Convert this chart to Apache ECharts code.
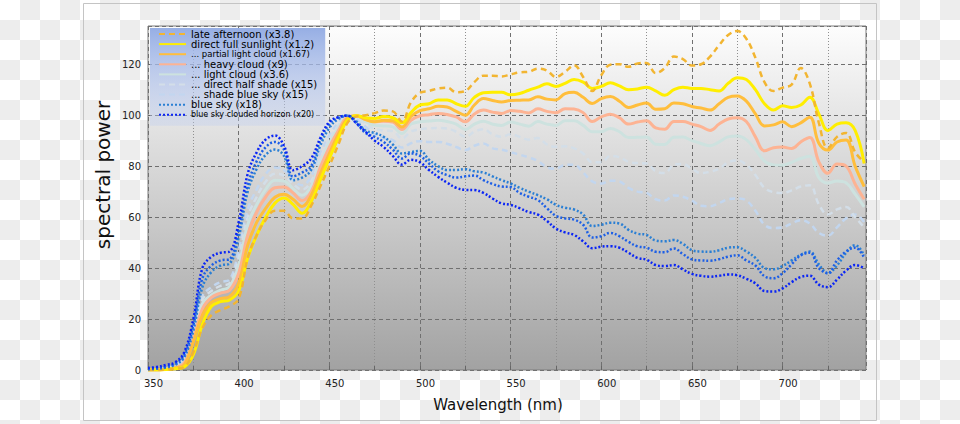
<!DOCTYPE html>
<html><head><meta charset="utf-8">
<script src="https://cdn.jsdelivr.net/npm/echarts@6/dist/echarts.min.js"></script>
<style>
html,body{margin:0;padding:0;width:960px;height:424px;overflow:hidden;
background: repeating-conic-gradient(#ededed 0 25%, #ffffff 0 50%) 0 0 / 40px 40px;}
#c{width:960px;height:424px;}
</style></head><body><div id="c"></div>
<script>
const wavelength = [350,355,360,365,370,375,380,385,390,395,400,405,410,415,420,425,430,435,440,445,450,455,460,465,470,475,480,485,490,495,500,505,510,515,520,525,530,535,540,545,550,555,560,565,570,575,580,585,590,595,600,605,610,615,620,625,630,635,640,645,650,655,660,665,670,675,680,685,690,695,700,705,710,715,720,725,730,735,740,745];

const lateAfternoon = [0,0,0.2,0.5,1.2,7,16.5,21.5,23.5,25,28,44,53,59,62.5,62.5,59.5,59.5,64.5,72,80,88.5,97,99.5,100,100.8,101.8,101.5,97.5,105,108.8,109.5,110.5,110.8,109,109.5,113,115.5,115.5,115.2,116,116.8,117,118.3,117.5,115,117,119.6,115,109.5,115.7,119.8,120,119,120.3,120.5,116.5,118.5,123,122,119.5,120,123,127.5,131.5,133,130,122.5,113,109.5,110.8,112,118.5,112.4,97,87,91.5,93,85.5,81.5];
const directSun = [0,0,0.2,0.5,1.2,6,18,25,26.8,27.5,31,44,53,60,65.5,67.5,65,61.5,66,74.5,83,91,98,99.8,99,98.7,99.5,99,97,101,104,104.5,106,106,104.5,103.5,107,108.8,109,109,108,108.5,109.8,111,112.3,111.3,112.5,114,113,110.5,111.3,112.7,111.5,110,110.3,111,109.5,107.8,110,111,110.5,110.5,110,109.5,112.5,114.7,114,110,104.5,102,103.7,103,104,107,100.5,94,96.5,97,94,81];
const partialCloud = [0,0,0.3,0.8,2,11,21.5,26.5,28,28.8,34,49,58,63.5,67.8,69,67,64.2,68.5,77,85,92.5,98.8,99.8,98.3,97.4,98,97.8,95.4,99.5,101.8,102.5,103.5,103.2,101.5,100,104,106.5,105.8,105.2,105.8,105.9,106,107.2,106.3,106,108.5,109,107,104.6,106.5,107.3,105.5,103,104,104.8,102.3,102.5,104.8,104.5,103.4,102.8,102,104.5,107,107.5,105.5,100.5,95.8,96.2,97.4,95.5,97,99.2,89,86.3,89.5,90.3,80,72];
const heavyCloud = [0,0,0.4,1,2.8,12.5,24,28.5,30.2,31.3,38,53,62,68,71.5,71.8,69.5,66.5,70,79.5,87.5,94,99.2,99.7,98.3,97.4,97.6,97.3,94.4,98,99.8,100.2,100.7,100.3,99.3,97.4,100.5,102,101.2,100.7,101.8,101.5,100.9,102.5,101.5,101,102.5,102.4,101,97.5,99.3,100.4,99,96.5,97.3,97.8,95,94.5,97.5,97.5,96.5,95.5,94,96.5,98.5,99,97.5,91.5,86,87.2,87.5,86.9,89.5,91.2,81.7,77.2,80.8,80,73,67];
const lightCloud = [0,0,0.5,1.2,3.5,14,26,29.5,31.3,32.7,41,57,65,71,74.5,74.2,71.2,68.6,72,81,89,95,99.3,99.5,97.5,96,95.8,95.4,92.8,96.5,97.4,97.7,98,97.5,96.5,94.4,96.5,97.6,96.5,96,97.3,96.5,95.7,97.5,96.5,96,97.8,97.8,96,93.5,93.5,94.8,93.5,91.2,91.3,91.4,88.6,88.5,91.3,91.4,90,88.9,88,89.5,91.5,91.8,90.4,86.5,82,80.5,80.4,81.5,83,83.9,75.5,73.4,74.2,73.5,69,64];
const halfShade = [0,0.1,0.6,1.5,4,15,27.5,31,33,34,44,60,68,74,77,76.3,73,70.8,74,83,90.5,96,99.5,99,96.5,94.7,94,93.8,90.8,93.5,94.5,94.8,95,94.8,93.5,91.5,93.5,94.5,92.5,91.5,92.5,91.5,90.4,91,88.5,87.6,87.8,87,85,81.5,81.5,84,83.5,81.7,81.2,81,78,77.3,80.5,80.8,79,77.3,77.8,79,81.5,82.2,80.6,76.5,71.5,69.8,69.5,70.5,72,72.5,65,61,63,64,60,56];
const shadeBlueSky = [0,0.2,0.8,2,5,16,29,32.5,34.5,35.5,47,63,71,77,79.5,78.5,74.5,72.5,76,85,92,97,99.6,98.5,95.5,92.7,91,90.2,87.3,89,89.8,89.5,89.5,88.8,87.5,86.3,88,88.9,87,86.5,85.5,84.5,83.4,82,79.6,79,80.5,80.5,77.5,74,73.2,74.3,74,71.5,70,69.5,67,66.5,68.5,68,66.5,64.5,64.3,65.5,67,67.3,66.5,62.5,57,55.7,56,57.5,58.8,57.5,53.8,52.7,56,59.5,61,58];
const blueSky = [0.3,0.5,1,2,5,15.5,32.5,38.5,41,41.8,52,70,79,84.5,86.5,84,74.5,75.5,78.5,88,95,98.5,99.8,97.5,94,93,91.5,88.5,85,85.5,86,82.5,80,78.5,78.5,78.8,78,77.5,76,74.5,73.2,71.5,70,68.6,67,64.8,63.7,63,61,56.5,57,57.8,57.5,55,53.5,53,50.8,50.5,51,49.5,47,46.5,46.4,47,48,48.2,46.5,44,40,39.5,40.8,43,45.2,46.5,41.5,38,41,46,49,45];
const blueSkyMid = [0.4,0.7,1.3,2.5,6,17.5,36,41,43,43.5,55,72.5,82,87.5,89.5,86.5,76,77.5,80,90,96.5,99,99.8,96.8,93,91.5,89.5,86.5,83,85,84,81,78,76.5,75.5,76,76.3,74.5,73,72,71.8,69.5,68,66.7,63.5,60.5,59.5,59,57,52,52.5,53.8,52.5,50.3,48.5,48,46.4,46.2,47.7,45.5,43.4,43,42.9,43.5,44.5,45,43,41,36.8,36,38,41.5,45,46,40,38,43,46.5,48,44];
const cloudedHorizon = [0.8,1.2,2,3,7,20,40,44.5,46,46.5,58,77,85.5,90.5,92,88,78.4,80,83,91,97.4,99.2,99.8,96.8,93.5,90,87.5,84,80.6,82.5,81.5,78.5,75.8,73.5,71.5,70.7,70.6,69.5,67.3,65.4,64.8,63.5,62,61,58.5,55.5,54,53,50.5,47.8,48.4,48.6,48,46,44,43.3,41.2,40.8,41.2,39.5,37.7,37,36.6,37,37.5,37.2,35.8,34,31,30.8,32,34.5,36.5,37,33.5,32.5,35.5,39,41.2,40];

const yTicks = [0,20,40,60,80,100,120];
const xTickLabels = [350,400,450,500,550,600,650,700];

const pair = arr => wavelength.map((w,i)=>[w,arr[i]]);
const FONT = 'DejaVu Sans';

function line(name, arr, color, width, type, z){
  return {
    name, type:'line', data: pair(arr), xAxisIndex:0, yAxisIndex:0,
    showSymbol:false, symbol:'none', smooth:0.4, z,
    lineStyle:{color, width, type, cap:'butt'}, itemStyle:{color},
    emphasis:{disabled:true}, silent:true
  };
}

const series = [
  line('... shade blue sky (x15)', shadeBlueSky, '#c2d6ef', 2.5, [6,4], 2),
  line('... direct half shade (x15)', halfShade, '#d3dee8', 2.5, [6,4], 3),
  line('... light cloud (x3.6)', lightCloud, '#cde2df', 3, 'solid', 4),
  line('... heavy cloud (x9)', heavyCloud, '#fdb393', 3, 'solid', 5),
  line('... partial light cloud (x1.67)', partialCloud, '#ffbe3c', 3, 'solid', 6),
  line('direct full sunlight (x1.2)', directSun, '#ffee00', 3, 'solid', 7),
  line('late afternoon (x3.8)', lateAfternoon, '#f2b531', 2.5, [6,4], 8),
  line('blue sky (x18)', blueSky, '#2a7fd4', 2.5, [2,2], 9),
  line('blue sky mid', blueSkyMid, '#1d5fe6', 2.5, [2,2], 10),
  line('blue sky clouded horizon (x20)', cloudedHorizon, '#0a25f5', 2.5, [2,2], 11)
];

const legendNames = ['late afternoon (x3.8)','direct full sunlight (x1.2)','... partial light cloud (x1.67)','... heavy cloud (x9)','... light cloud (x3.6)','... direct half shade (x15)','... shade blue sky (x15)','blue sky (x18)','blue sky clouded horizon (x20)'];
const smallKey = {'... partial light cloud (x1.67)':'s','blue sky clouded horizon (x20)':'t'};

const chart = echarts.init(document.getElementById('c'), null, {renderer:'svg'});
chart.setOption({
  animation:false,
  backgroundColor:'transparent',
  grid:{left:148, top:26, right:94, bottom:54, show:true, borderColor:'#7d7d7d', borderWidth:1,
    backgroundColor:new echarts.graphic.LinearGradient(0,0,0,1,[{offset:0,color:'#fdfdfd'},{offset:1,color:'#a2a2a2'}])},
  legend:{data:legendNames, orient:'vertical', left:150, top:28, padding:[1,8,6,8],
    itemWidth:27, itemHeight:8, itemGap:0.1, selectedMode:false,
    itemStyle:{opacity:0},
    backgroundColor:new echarts.graphic.LinearGradient(0,0,0,1,[{offset:0,color:'rgba(150,174,228,1)'},{offset:1,color:'rgba(190,205,240,0.35)'}]),
    formatter: n => '{'+(smallKey[n]||'n')+'|'+n+'}',
    textStyle:{color:'#000', fontFamily:FONT, fontSize:10, lineHeight:10,
      rich:{n:{fontSize:10,fontFamily:FONT,color:'#000',lineHeight:10},
            s:{fontSize:8.5,fontFamily:FONT,color:'#000',lineHeight:10},
            t:{fontSize:8,fontFamily:FONT,color:'#000',lineHeight:10}}}},
  xAxis:[
    {type:'value', min:350, max:746, interval:25,
      axisLine:{show:false}, axisTick:{inside:true, length:4, lineStyle:{color:'#666'}},
      axisLabel:{formatter:v=> xTickLabels.includes(v)? String(v):'', showMaxLabel:false, color:'#222', fontFamily:FONT, fontSize:10, margin:8, padding:[0,0,0,11]},
      splitLine:{show:true, lineStyle:{color:['rgba(0,0,0,0)','#8f8f8f'], type:[1,2], width:1}}},
    {type:'value', min:350, max:746, interval:50, position:'bottom',
      axisLine:{show:false}, axisTick:{show:false}, axisLabel:{show:false},
      splitLine:{show:true, lineStyle:{color:'#707070', type:[4,3], width:1}}}
  ],
  yAxis:{type:'value', min:0, max:135, interval:20,
    axisLine:{show:false}, axisTick:{inside:true, length:4, lineStyle:{color:'#666'}},
    axisLabel:{formatter:v=> yTicks.includes(v)? String(v):'', showMaxLabel:false, color:'#222', fontFamily:FONT, fontSize:10, margin:7},
    splitLine:{show:true, lineStyle:{color:'#707070', type:[4,3], width:1}}},
  graphic:[
    {type:'rect', shape:{x:83.5,y:3.5,width:793,height:417}, style:{fill:'none', stroke:'#c4c4c4', lineWidth:1}, silent:true, z:-1},
    {type:'text', x:103, y:175, rotation:Math.PI/2, style:{text:'spectral power', font:'20px "DejaVu Sans"', fill:'#111', align:'center', verticalAlign:'middle'}, silent:true},
    {type:'text', x:498, y:405, style:{text:'Wavelength (nm)', font:'15px "DejaVu Sans"', fill:'#111', align:'center', verticalAlign:'middle'}, silent:true}
  ],
  series
});
</script></body></html>
